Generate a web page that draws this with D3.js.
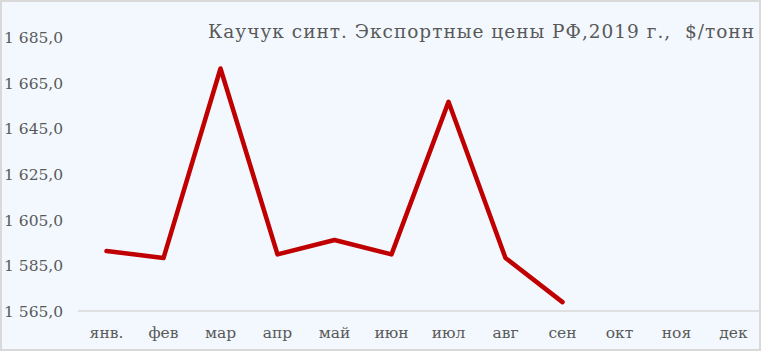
<!DOCTYPE html>
<html>
<head>
<meta charset="utf-8">
<script src="https://cdn.jsdelivr.net/npm/d3@7"></script>
<style>
  body { margin: 0; background: #fff; }
  text { font-family: "DejaVu Serif", serif; fill: #595959; }
</style>
</head>
<body>
<script>
var w = 761;
var h = 351;

var months = ["янв.", "фев", "мар", "апр", "май", "июн", "июл", "авг", "сен", "окт", "ноя", "дек"];
var prices = [1591.3, 1588.2, 1671.2, 1589.8, 1596.1, 1589.8, 1656.6, 1588.2, 1568.9];
var yTicks = [1565, 1585, 1605, 1625, 1645, 1665, 1685];
var title = "Каучук синт. Экспортные цены РФ,2019 г.,  $/тонн";

var svg = d3.select("body").append("svg")
  .attr("width", w)
  .attr("height", h);

// background + frame
svg.append("rect")
  .attr("x", 0.5).attr("y", 0.5)
  .attr("width", w - 1).attr("height", h - 1)
  .attr("fill", "#F2F8FE")
  .attr("stroke", "#D9D9D9")
  .attr("stroke-width", 3);

var x = d3.scaleBand()
  .domain(months)
  .range([78, 762]);

var y = d3.scaleLinear()
  .domain([1565, 1685])
  .range([311, 37]);

// y labels
svg.selectAll(".ylab")
  .data(yTicks)
  .enter()
  .append("text")
  .attr("class", "ylab")
  .attr("x", 4)
  .attr("y", function(d){ return y(d); })
  .attr("dy", "0.38em")
  .attr("font-size", "15.5px")
  .text(function(d){ return d3.format(",.1f")(d).replace(",", " ").replace(".", ","); });

// baseline
svg.append("line")
  .attr("x1", 78).attr("x2", 760)
  .attr("y1", y(1565)).attr("y2", y(1565))
  .attr("stroke", "#D9D9D9")
  .attr("stroke-width", 1.5);

// month labels
svg.selectAll(".xlab")
  .data(months)
  .enter()
  .append("text")
  .attr("class", "xlab")
  .attr("x", function(d){ return x(d) + x.bandwidth() / 2; })
  .attr("y", 338)
  .attr("text-anchor", "middle")
  .attr("font-size", "15.5px")
  .text(function(d){ return d; });

// line
var line = d3.line()
  .x(function(d, i){ return x(months[i]) + x.bandwidth() / 2; })
  .y(function(d){ return y(d); });

svg.append("path")
  .datum(prices)
  .attr("d", line)
  .attr("fill", "none")
  .attr("stroke", "#C00000")
  .attr("stroke-width", 4.5)
  .attr("stroke-linecap", "round")
  .attr("stroke-linejoin", "round");

// title
svg.append("text")
  .attr("x", 755)
  .attr("y", 38)
  .attr("text-anchor", "end")
  .attr("font-size", "18.5px")
  .attr("letter-spacing", "1px")
  .style("white-space", "pre")
  .text(title);
</script>
</body>
</html>
